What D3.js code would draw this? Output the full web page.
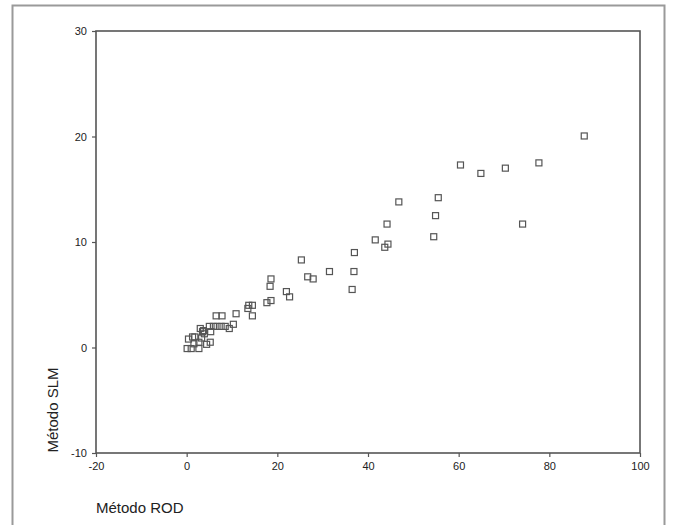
<!DOCTYPE html>
<html>
<head>
<meta charset="utf-8">
<script src="https://cdn.jsdelivr.net/npm/d3@7"></script>
<style>
  body { margin: 0; background: #fff; }
  svg { display: block; font-family: "Liberation Sans", Arial, sans-serif; }
</style>
</head>
<body>
<svg id="chart" width="673" height="525"></svg>
<script>
// values
const rod = [87.7, 77.7, 70.3, 64.9, 60.4, 55.5, 54.9, 74.1, 54.5, 46.8,
             44.2, 41.6, 44.4, 43.7, 37.0, 25.3, 31.5, 36.9, 36.5, 26.7,
             27.9, 18.6, 18.4, 22.0, 22.7, 17.7, 18.6, 13.7, 14.5, 13.5,
             14.5, 10.9, 6.5, 7.8, 10.3, 9.4, 5.0, 5.9, 6.7, 7.6,
             8.5, 5.3, 3.0, 3.5, 3.9, 3.3, 0.4, 1.3, 1.8, 1.6,
             2.7, 4.4, 5.2, 0.1, 1.0, 2.7, 3.7];
const slm = [20.05, 17.5, 17.0, 16.5, 17.3, 14.2, 12.5, 11.7, 10.5, 13.8,
             11.7, 10.2, 9.8, 9.5, 9.0, 8.3, 7.2, 7.2, 5.5, 6.7,
             6.5, 6.5, 5.8, 5.3, 4.8, 4.25, 4.45, 4.0, 4.0, 3.7,
             3.0, 3.2, 3.0, 3.0, 2.2, 1.8, 2.0, 2.0, 2.0, 2.0,
             2.0, 1.5, 1.8, 1.5, 1.3, 0.9, 0.8, 1.0, 1.0, 0.35,
             0.5, 0.3, 0.5, -0.1, -0.1, -0.1, 1.6];
const xTicks = [-20, 0, 20, 40, 60, 80, 100];
const yTicks = [-10, 0, 10, 20, 30];

const svg = d3.select('#chart');

// outer frame (no bottom edge)
svg.append('path')
    .attr('d', 'M12.5,525 V5.5 H664.5 V525')
    .attr('fill', 'none')
    .attr('stroke', '#9a9a9a')
    .attr('stroke-width', 2);

const margin = { top: 31, left: 96, right: 33, bottom: 72 };
const width = 673 - margin.left - margin.right;
const height = 525 - margin.top - margin.bottom;

const x = d3.scaleLinear().domain([-20, 100]).range([0, width]);
const y = d3.scaleLinear().domain([-10, 30]).range([height, 0]);

const g = svg.append('g')
    .attr('transform', `translate(${margin.left},${margin.top})`);

// box
g.append('rect')
    .attr('width', width)
    .attr('height', height)
    .attr('fill', 'none')
    .attr('stroke', '#555')
    .attr('stroke-width', 1.6);

// plain hyphen for negatives, like the original
const fmt = d => String(d);

// X Axis
const xAxis = g.append('g')
    .attr('transform', `translate(0,${height})`)
    .call(d3.axisBottom(x).tickValues(xTicks).tickFormat(fmt).tickSize(4).tickPadding(5));

// Y Axis
const yAxis = g.append('g')
    .call(d3.axisLeft(y).tickValues(yTicks).tickFormat(fmt).tickSize(4).tickPadding(5));

[xAxis, yAxis].forEach(a => {
    a.select('.domain').remove();
    a.selectAll('line').attr('stroke', '#555').attr('stroke-width', 1.2);
    a.selectAll('text')
        .attr('fill', '#222')
        .style('font-size', '11px')
        .style('font-family', '"Liberation Sans", Arial, sans-serif');
});

// points
const s = 6;
g.selectAll('.pt')
    .data(rod.map((d, i) => [d, slm[i]]))
    .enter()
    .append('rect')
    .attr('class', 'pt')
    .attr('x', d => x(d[0]) - s / 2)
    .attr('y', d => y(d[1]) - s / 2)
    .attr('width', s)
    .attr('height', s)
    .attr('fill', 'none')
    .attr('stroke', '#555')
    .attr('stroke-width', 1.2);

// Y-Axis Title
svg.append('text')
    .attr('transform', 'translate(58,410) rotate(-90)')
    .style('text-anchor', 'middle')
    .style('font-size', '15px')
    .attr('fill', '#222')
    .text('Método SLM');

// X-Axis Title
svg.append('text')
    .attr('x', 96)
    .attr('y', 513)
    .style('font-size', '15px')
    .attr('fill', '#222')
    .text('Método ROD');
</script>
</body>
</html>
